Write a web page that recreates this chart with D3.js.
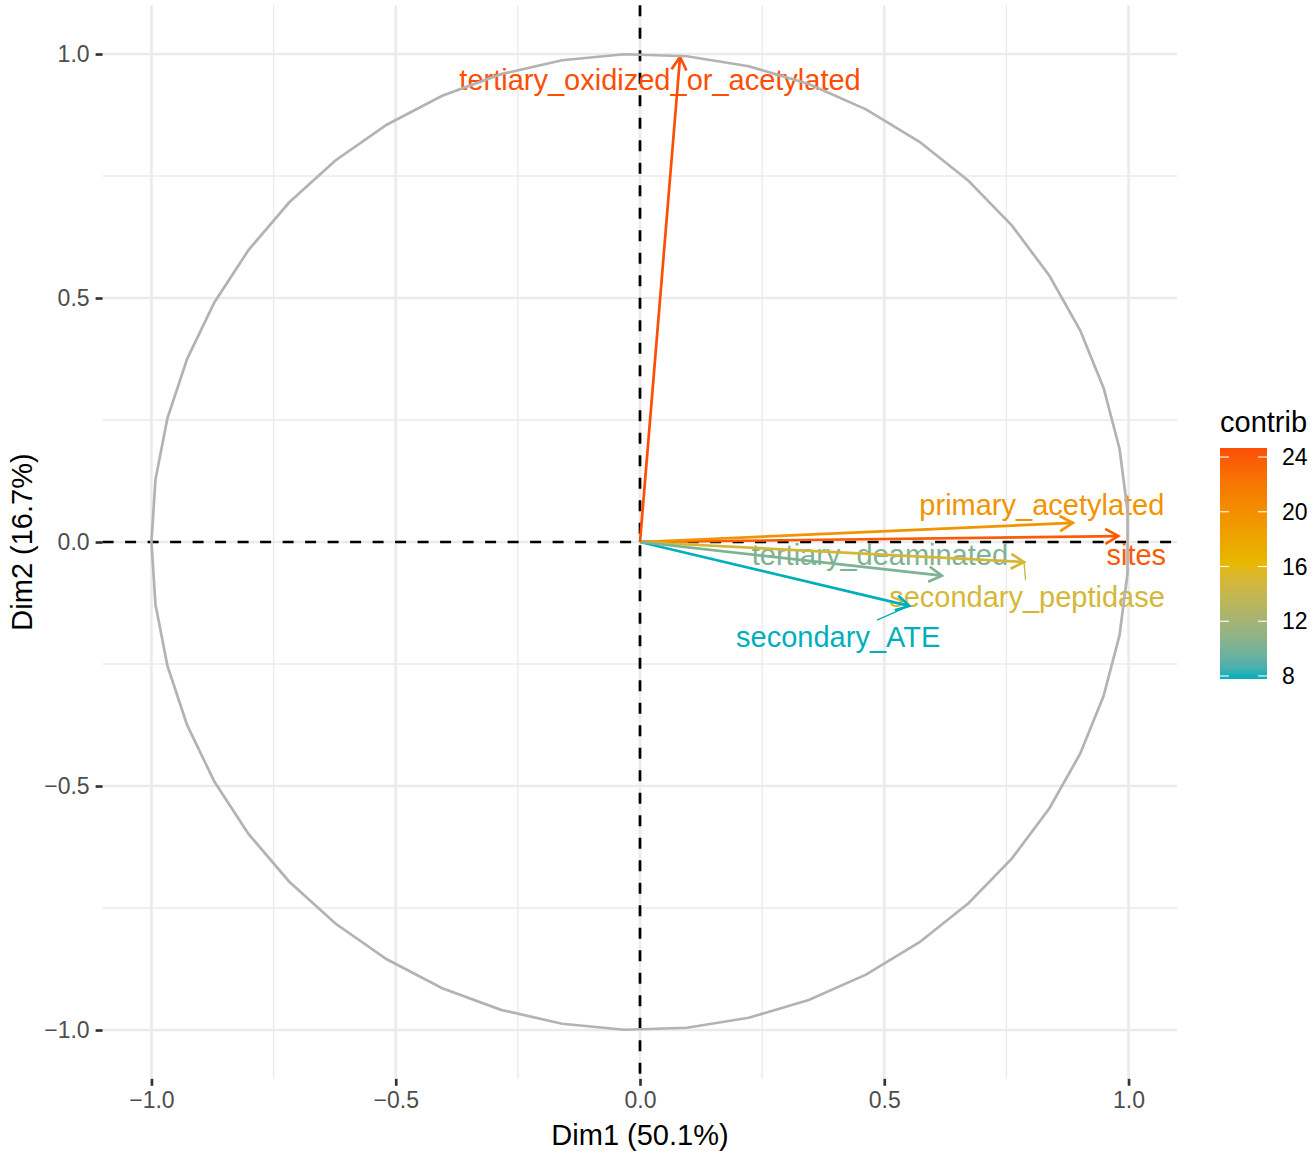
<!DOCTYPE html>
<html>
<head>
<meta charset="utf-8">
<script src="https://cdn.jsdelivr.net/npm/d3@7"></script>
<style>
  body { margin: 0; background: #fff; }
  text { font-family: "Liberation Sans", Arial, Helvetica, sans-serif; }
</style>
</head>
<body>
<div id="chart"></div>
<script>
// variables of the PCA and their coordinates on Dim1 / Dim2
const variables = ['sites', 'primary_acetylated', 'secondary_ATE', 'secondary_peptidase',
  'tertiary_deaminated', 'tertiary_oxidized_or_acetylated']
const dim1 = [0.979, 0.886, 0.551, 0.786, 0.618, 0.082]
const dim2 = [0.012, 0.039, -0.131, -0.041, -0.069, 0.994]
const contrib = [23.9, 19.6, 7.78, 15.0, 10.2, 24.66]
const axisTicks = [-1, -0.5, 0, 0.5, 1]
const minorTicks = [-0.75, -0.25, 0.25, 0.75]
const legendTicks = [8, 12, 16, 20, 24]
const gradientColors = ['#00AFBB', '#E7B800', '#FC4E07']

// label offsets (px) from the arrow tip, as placed by the repel step
const labelOffset = {
  sites: [18, 19],
  primary_acetylated: [-31, -18],
  secondary_ATE: [-71, 31],
  secondary_peptidase: [3, 35],
  tertiary_deaminated: [-62, -21],
  tertiary_oxidized_or_acetylated: [-20, 23]
}

const width = 1315
const height = 1151
const panel = { left: 102.6, right: 1177.4, top: 5.2, bottom: 1078.8 }
const lw = 2.7 // main line width

const svg = d3.select('#chart').append('svg')
  .attr('width', width)
  .attr('height', height)

const x = d3.scaleLinear().domain([-1.1, 1.1]).range([panel.left, panel.right])
const y = d3.scaleLinear().domain([-1.1, 1.1]).range([panel.bottom, panel.top])

const cExtent = d3.extent(contrib)
const color = d3.scaleLinear()
  .domain([cExtent[0], (cExtent[0] + cExtent[1]) / 2, cExtent[1]])
  .range(gradientColors)
  .interpolate(d3.interpolateLab)

const fmt = v => d3.format('.1f')(v).replace('-', '\u2212')

// grid
const grid = svg.append('g')
grid.selectAll('.minor-x').data(minorTicks).join('line')
  .attr('x1', d => x(d)).attr('x2', d => x(d))
  .attr('y1', panel.top).attr('y2', panel.bottom)
  .attr('stroke', '#EBEBEB').attr('stroke-width', 1.4)
grid.selectAll('.minor-y').data(minorTicks).join('line')
  .attr('y1', d => y(d)).attr('y2', d => y(d))
  .attr('x1', panel.left).attr('x2', panel.right)
  .attr('stroke', '#EBEBEB').attr('stroke-width', 1.4)
grid.selectAll('.major-x').data(axisTicks).join('line')
  .attr('x1', d => x(d)).attr('x2', d => x(d))
  .attr('y1', panel.top).attr('y2', panel.bottom)
  .attr('stroke', '#EBEBEB').attr('stroke-width', lw)
grid.selectAll('.major-y').data(axisTicks).join('line')
  .attr('y1', d => y(d)).attr('y2', d => y(d))
  .attr('x1', panel.left).attr('x2', panel.right)
  .attr('stroke', '#EBEBEB').attr('stroke-width', lw)

// axes: ticks + labels
const xAxis = d3.axisBottom(x).tickValues(axisTicks).tickFormat(fmt).tickSize(7).tickPadding(6)
const yAxis = d3.axisLeft(y).tickValues(axisTicks).tickFormat(fmt).tickSize(7).tickPadding(6)
const gx = svg.append('g').attr('transform', `translate(0,${panel.bottom})`).call(xAxis)
const gy = svg.append('g').attr('transform', `translate(${panel.left},0)`).call(yAxis)
;[gx, gy].forEach(g => {
  g.select('.domain').remove()
  g.selectAll('.tick line').attr('stroke', '#333').attr('stroke-width', lw)
  g.selectAll('.tick text').attr('fill', '#4D4D4D').attr('font-size', 23)
    .attr('font-family', '"Liberation Sans", Arial, sans-serif')
})
gx.selectAll('.tick text').attr('dy', '0.71em').attr('y', 13)
gy.selectAll('.tick text').attr('x', -13)

// dashed reference lines
svg.append('line')
  .attr('x1', panel.left).attr('x2', panel.right)
  .attr('y1', y(0)).attr('y2', y(0))
  .attr('stroke', '#000').attr('stroke-width', lw).attr('stroke-dasharray', '11,11.5')
svg.append('line')
  .attr('x1', x(0)).attr('x2', x(0))
  .attr('y1', panel.top).attr('y2', panel.bottom)
  .attr('stroke', '#000').attr('stroke-width', lw).attr('stroke-dasharray', '11,11.5')

const data = variables.map((name, i) => ({ name, x: dim1[i], y: dim2[i], contrib: contrib[i] }))

// labels with repel segments
const labels = svg.append('g')
data.forEach(d => {
  const tx = x(d.x), ty = y(d.y)
  const [dx, dy] = labelOffset[d.name]
  const cx = tx + dx, cy = ty + dy
  const c = color(d.contrib)
  const t = labels.append('text')
    .attr('x', cx).attr('y', cy).attr('dy', '0.35em')
    .attr('text-anchor', 'middle')
    .attr('font-size', 29)
    .attr('fill', c)
    .text(d.name)
  const bb = t.node().getBBox()
  const hw = bb.width / 2 + 3, hh = bb.height / 2 + 1
  const bcx = bb.x + bb.width / 2, bcy = bb.y + bb.height / 2
  const vx = tx - bcx, vy = ty - bcy
  const s = Math.max(Math.abs(vx) / hw, Math.abs(vy) / hh)
  if (s > 1) {
    const ex = bcx + vx / s, ey = bcy + vy / s
    if (Math.hypot(tx - ex, ty - ey) > 16) {
      labels.insert('line', 'text')
        .attr('x1', tx).attr('y1', ty).attr('x2', ex).attr('y2', ey)
        .attr('stroke', c).attr('stroke-width', 1.4)
    }
  }
})

// arrows
const headLen = 15
const headAngle = Math.PI / 6
const arrows = svg.append('g')
data.forEach(d => {
  const x0 = x(0), y0 = y(0), x1 = x(d.x), y1 = y(d.y)
  const a = Math.atan2(y1 - y0, x1 - x0)
  const c = color(d.contrib)
  arrows.append('line')
    .attr('x1', x0).attr('y1', y0).attr('x2', x1).attr('y2', y1)
    .attr('stroke', c).attr('stroke-width', lw)
  const p = d3.path()
  p.moveTo(x1 - headLen * Math.cos(a - headAngle), y1 - headLen * Math.sin(a - headAngle))
  p.lineTo(x1, y1)
  p.lineTo(x1 - headLen * Math.cos(a + headAngle), y1 - headLen * Math.sin(a + headAngle))
  arrows.append('path')
    .attr('d', p.toString())
    .attr('fill', 'none').attr('stroke', c).attr('stroke-width', lw)
    .attr('stroke-linejoin', 'miter')
})

// correlation circle
const theta = d3.range(50).map(i => -Math.PI + i * 2 * Math.PI / 49)
svg.append('path')
  .datum(theta)
  .attr('d', d3.line().x(t => x(Math.cos(t))).y(t => y(Math.sin(t))))
  .attr('fill', 'none').attr('stroke', '#B3B3B3').attr('stroke-width', lw)

// axis titles
svg.append('text')
  .attr('x', (panel.left + panel.right) / 2).attr('y', 1145)
  .attr('text-anchor', 'middle').attr('font-size', 29).attr('fill', '#000')
  .text('Dim1 (50.1%)')
svg.append('text')
  .attr('transform', `translate(32,${(panel.top + panel.bottom) / 2}) rotate(-90)`)
  .attr('text-anchor', 'middle').attr('font-size', 29).attr('fill', '#000')
  .text('Dim2 (16.7%)')

// legend
const legend = svg.append('g')
const bar = { x: 1220, y: 448, w: 47, h: 231 }
const ly = d3.scaleLinear().domain(cExtent).range([bar.y + bar.h, bar.y])
const grad = svg.append('defs').append('linearGradient')
  .attr('id', 'contribGrad').attr('x1', 0).attr('y1', 1).attr('x2', 0).attr('y2', 0)
d3.range(0, 1.0001, 0.05).forEach(f => {
  grad.append('stop').attr('offset', f)
    .attr('stop-color', color(cExtent[0] + f * (cExtent[1] - cExtent[0])))
})
legend.append('text')
  .attr('x', bar.x).attr('y', 432)
  .attr('font-size', 29).attr('fill', '#000')
  .text('contrib')
legend.append('rect')
  .attr('x', bar.x).attr('y', bar.y).attr('width', bar.w).attr('height', bar.h)
  .attr('fill', 'url(#contribGrad)')
legendTicks.forEach(v => {
  legend.append('line')
    .attr('x1', bar.x).attr('x2', bar.x + 9)
    .attr('y1', ly(v)).attr('y2', ly(v))
    .attr('stroke', '#fff').attr('stroke-width', 1.1)
  legend.append('line')
    .attr('x1', bar.x + bar.w - 9).attr('x2', bar.x + bar.w)
    .attr('y1', ly(v)).attr('y2', ly(v))
    .attr('stroke', '#fff').attr('stroke-width', 1.1)
  legend.append('text')
    .attr('x', bar.x + bar.w + 15).attr('y', ly(v)).attr('dy', '0.35em')
    .attr('font-size', 23).attr('fill', '#000')
    .text(v)
})
</script>
</body>
</html>
